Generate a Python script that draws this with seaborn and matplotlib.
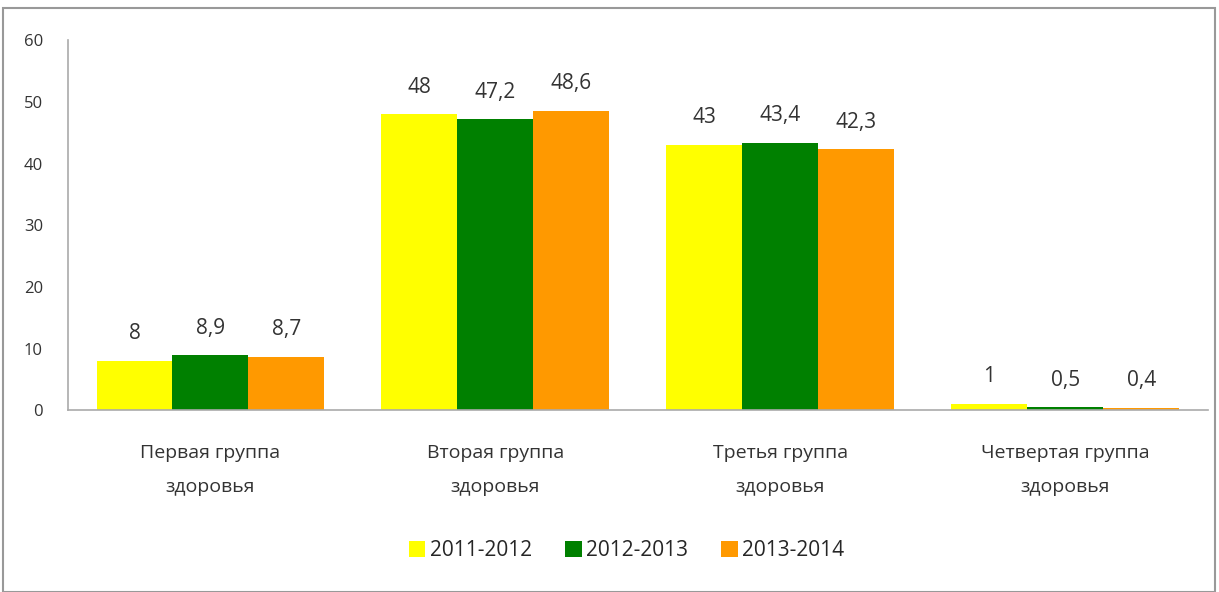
import matplotlib
matplotlib.use("Agg")
import matplotlib.pyplot as plt
import seaborn as sns
import pandas as pd
from matplotlib.patches import Rectangle

# данные с картинки
groups = ["Первая группа\nздоровья", "Вторая группа\nздоровья",
          "Третья группа\nздоровья", "Четвертая группа\nздоровья"]
years = ["2011-2012", "2012-2013", "2013-2014"]
v_2011 = [8, 48, 43, 1]
v_2012 = [8.9, 47.2, 43.4, 0.5]
v_2013 = [8.7, 48.6, 42.3, 0.4]
colors = ["#FFFF00", "#008000", "#FF9900"]

rows = []
for yr, vals in zip(years, [v_2011, v_2012, v_2013]):
    for g, v in zip(groups, vals):
        rows.append({"group": g, "year": yr, "value": v})
df = pd.DataFrame(rows)

sns.set_style("white")
plt.rcParams['font.family'] = ['Open Sans', 'DejaVu Sans']

fig = plt.figure(figsize=(12.19, 5.92), dpi=100)
ax = fig.add_axes([0.0558, 0.307, 0.935, 0.625])

sns.barplot(data=df, x="group", y="value", hue="year", palette=colors,
            width=0.8, saturation=1, linewidth=0, ax=ax, legend=True)

for cont in ax.containers:
    labs = [("%g" % b.get_height()).replace(".", ",") for b in cont]
    ax.bar_label(cont, labels=labs, padding=12, fontsize=15, color="#333333")

ax.set_ylim(0, 60)
ax.set_xlim(-0.5, 3.5)
ax.set_yticks(range(0, 61, 10))
ax.set_xlabel("")
ax.set_ylabel("")
ax.tick_params(axis="y", labelsize=12, colors="#333333", length=0, pad=18)
ax.tick_params(axis="x", labelsize=14, colors="#333333", length=0, pad=24)
for t in ax.get_xticklabels():
    t.set_linespacing(2.2)
for s in ["top", "right"]:
    ax.spines[s].set_visible(False)
for s in ["left", "bottom"]:
    ax.spines[s].set_color("#aaaaaa")
    ax.spines[s].set_linewidth(1.2)

ax.legend(loc="center", bbox_to_anchor=(0.49, -0.38), ncol=3, frameon=False,
          fontsize=15, handlelength=0.8, handleheight=0.8, handletextpad=0.2,
          columnspacing=1.6)

fig.patches.append(Rectangle((3 / 1219, 0), 1212 / 1219, 1 - 8 / 592,
                             transform=fig.transFigure, fill=False,
                             edgecolor="#999999", linewidth=1.5))

fig.savefig("out.png", dpi=100)
